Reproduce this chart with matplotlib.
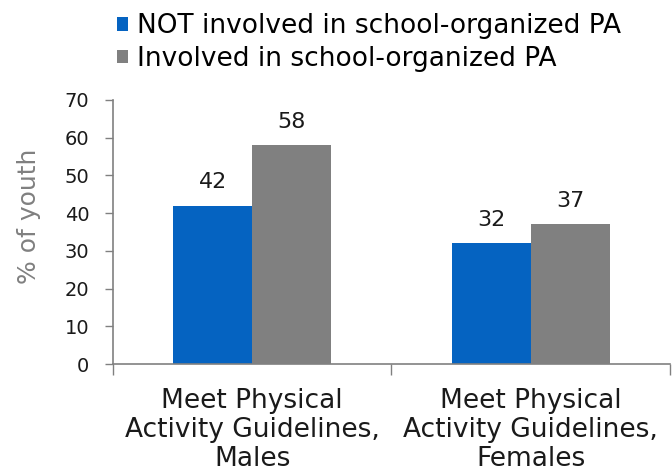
import matplotlib.pyplot as plt
import numpy as np

plt.rcParams['font.family'] = ['DejaVu Sans']

categories = ['Meet Physical\nActivity Guidelines,\nMales',
              'Meet Physical\nActivity Guidelines,\nFemales']
series_names = ['NOT involved in school-organized PA', 'Involved in school-organized PA']
not_involved = [42, 32]
involved = [58, 37]
colors = ['#0563C1', '#808080']

fig = plt.figure(figsize=(6.72, 4.73), dpi=100)
ax = fig.add_axes([0.168, 0.2304, 0.829, 0.5582])

x = np.arange(len(categories))
w = 0.284
b1 = ax.bar(x - w / 2, not_involved, w, color=colors[0], label=series_names[0])
b2 = ax.bar(x + w / 2, involved, w, color=colors[1], label=series_names[1])

for bars, vals in [(b1, not_involved), (b2, involved)]:
    for bar, v in zip(bars, vals):
        ax.text(bar.get_x() + bar.get_width() / 2, v + 3.5, str(v),
                ha='center', va='bottom', fontsize=16, color='#1a1a1a')

ax.set_xlim(-0.5, 1.5)
ax.set_ylim(0, 70)
ax.set_yticks(range(0, 71, 10))
ax.tick_params(axis='y', labelsize=14, colors='#808080', labelcolor='#1a1a1a',
               length=6, width=1, pad=11)
ax.set_xticks([-0.5, 0.5, 1.5])
ax.set_xticklabels([])
ax.set_xticks(x, minor=True)
ax.set_xticklabels(categories, minor=True, fontsize=19, color='#1a1a1a',
                   linespacing=1.17)
ax.tick_params(axis='x', which='major', length=8, width=1, colors='#808080')
ax.tick_params(axis='x', which='minor', length=0, pad=17)

for s in ['top', 'right']:
    ax.spines[s].set_visible(False)
for s in ['left', 'bottom']:
    ax.spines[s].set_color('#808080')
    ax.spines[s].set_linewidth(1.2)

ax.set_ylabel('% of youth', fontsize=18, color='#808080', labelpad=17, y=0.56)

fig.legend(loc='upper left', bbox_to_anchor=(0.155, 1.0), frameon=False,
           fontsize=19, handlelength=0.42, handleheight=0.42, handletextpad=0.34,
           labelspacing=0.25, borderaxespad=0.1)

fig.savefig('out.png', dpi=100)
